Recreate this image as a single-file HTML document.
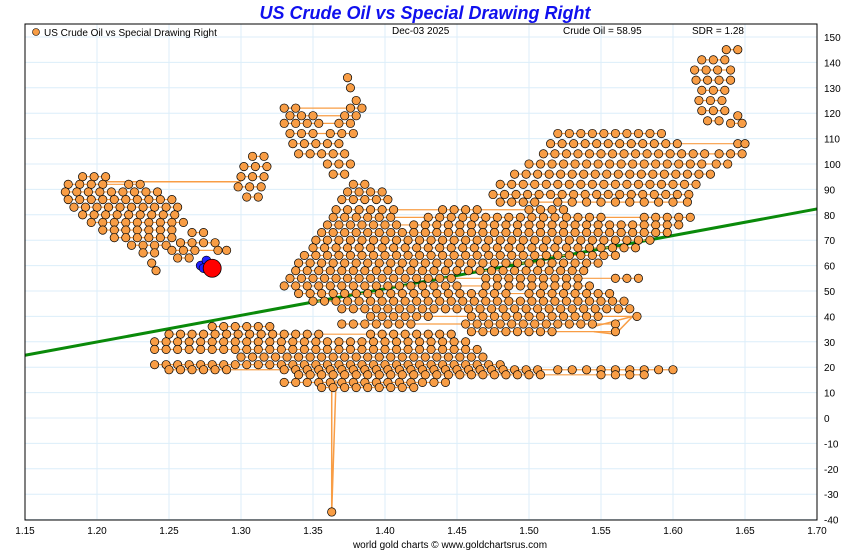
<!DOCTYPE html>
<html><head><meta charset="utf-8"><style>
html,body{margin:0;padding:0;background:#fff;}
svg{display:block;font-family:"Liberation Sans",sans-serif;}
</style></head><body>
<svg id="chart" width="850" height="550">
<text x="425" y="19" text-anchor="middle" font-size="18" font-weight="bold" font-style="italic" fill="#1010ee">US Crude Oil vs Special Drawing Right</text>
<g id="grid"></g>
<g id="trend"></g>
<g id="marks"></g>
<rect x="25" y="24" width="792" height="496" fill="none" stroke="#000" stroke-width="1"/>
<g id="axes"></g>
<circle cx="36" cy="32" r="3.5" fill="#f89d45" stroke="#000" stroke-width="0.6"/>
<text x="44" y="36" font-size="10">US Crude Oil vs Special Drawing Right</text>
<text x="392" y="34" font-size="10">Dec-03  2025</text>
<text x="563" y="34" font-size="10">Crude Oil = 58.95</text>
<text x="692" y="34" font-size="10">SDR = 1.28</text>
<text x="450" y="548" text-anchor="middle" font-size="10">world gold charts © www.goldchartsrus.com</text>
</svg>
<script>
const xTicks=[1.15,1.20,1.25,1.30,1.35,1.40,1.45,1.50,1.55,1.60,1.65,1.70];
const yTicks=[150,140,130,120,110,100,90,80,70,60,50,40,30,20,10,0,-10,-20,-30,-40];
const trendStart=[1.15,24.7];
const trendEnd=[1.70,82.3];
// rows: [oil price, [SDR values observed at that oil level]]
const rowsLeft=[
[95,[1.19,1.198,1.206]],
[92,[1.18,1.188,1.196,1.204,1.222,1.23]],
[89,[1.178,1.186,1.194,1.202,1.21,1.218,1.226,1.234,1.242]],
[86,[1.18,1.188,1.196,1.204,1.212,1.22,1.228,1.236,1.244,1.252]],
[83,[1.184,1.192,1.2,1.208,1.216,1.224,1.232,1.24,1.248,1.256]],
[80,[1.19,1.198,1.206,1.214,1.222,1.23,1.238,1.246,1.254]],
[77,[1.196,1.204,1.212,1.22,1.228,1.236,1.244,1.252,1.26]],
[74,[1.204,1.212,1.22,1.228,1.236,1.244,1.252]],
[71,[1.212,1.22,1.228,1.236,1.244,1.252]],
[68,[1.224,1.232,1.24,1.248]],
[65,[1.232,1.24]],
[61,[1.238]],
[58,[1.241]]];
const rowsRecent=[[73,[1.266,1.274]],[69,[1.258,1.266,1.274,1.282]],[66,[1.252,1.26,1.268,1.284,1.29]],[63,[1.256,1.264]]];
const rowsPre=[[103,[1.308,1.316]],[99,[1.302,1.31,1.318]],[95,[1.3,1.308,1.316]],[91,[1.298,1.306,1.314]],[87,[1.304,1.312]]];
const rowsUpperMid=[
[134,[1.374]],[130,[1.376]],[125,[1.38]],
[122,[1.33,1.338,1.376,1.384]],
[119,[1.334,1.342,1.35,1.372,1.38]],
[116,[1.33,1.338,1.346,1.354,1.368,1.376]],
[112,[1.334,1.342,1.35,1.362,1.37,1.378]],
[108,[1.336,1.344,1.352,1.36,1.368]],
[104,[1.34,1.348,1.356,1.364,1.372]],
[100,[1.36,1.368,1.376]],
[96,[1.364,1.372]]];
const rowsMass=[
[92,[1.378,1.386]],
[89,[1.374,1.382,1.39,1.398]],
[86,[1.37,1.378,1.386,1.394,1.402]],
[82,[1.366,1.374,1.382,1.39,1.398,1.406,1.44,1.448,1.456,1.464,1.5,1.508,1.516,1.524]],
[79,[1.364,1.372,1.38,1.388,1.396,1.404,1.43,1.438,1.446,1.454,1.462,1.47,1.478,1.486,1.494,1.502,1.51,1.518,1.526,1.534,1.542,1.55,1.58,1.588,1.596,1.604,1.612]],
[76,[1.36,1.368,1.376,1.384,1.392,1.4,1.408,1.42,1.428,1.436,1.444,1.452,1.46,1.468,1.476,1.484,1.492,1.5,1.508,1.516,1.524,1.532,1.54,1.548,1.556,1.564,1.572,1.58,1.588,1.596,1.604]],
[73,[1.356,1.364,1.372,1.38,1.388,1.396,1.404,1.412,1.42,1.428,1.436,1.444,1.452,1.46,1.468,1.476,1.484,1.492,1.5,1.508,1.516,1.524,1.532,1.54,1.548,1.556,1.564,1.572,1.58,1.588,1.596]],
[70,[1.352,1.36,1.368,1.376,1.384,1.392,1.4,1.408,1.416,1.424,1.432,1.44,1.448,1.456,1.464,1.472,1.48,1.488,1.496,1.504,1.512,1.52,1.528,1.536,1.544,1.552,1.56,1.568,1.576,1.584]],
[67,[1.35,1.358,1.366,1.374,1.382,1.39,1.398,1.406,1.414,1.422,1.43,1.438,1.446,1.454,1.462,1.47,1.478,1.486,1.494,1.502,1.51,1.518,1.526,1.534,1.542,1.55,1.558,1.566,1.574]],
[64,[1.344,1.352,1.36,1.368,1.376,1.384,1.392,1.4,1.408,1.416,1.424,1.432,1.44,1.448,1.456,1.464,1.472,1.48,1.488,1.496,1.504,1.512,1.52,1.528,1.536,1.544,1.552,1.56]],
[61,[1.34,1.348,1.356,1.364,1.372,1.38,1.388,1.396,1.404,1.412,1.42,1.428,1.436,1.444,1.452,1.46,1.468,1.476,1.484,1.492,1.5,1.508,1.516,1.524,1.532,1.54,1.548]],
[58,[1.338,1.346,1.354,1.362,1.37,1.378,1.386,1.394,1.402,1.41,1.418,1.426,1.434,1.442,1.45,1.458,1.466,1.474,1.482,1.49,1.498,1.506,1.514,1.522,1.53,1.538]],
[55,[1.334,1.342,1.35,1.358,1.366,1.374,1.382,1.39,1.398,1.406,1.414,1.422,1.43,1.438,1.446,1.47,1.478,1.486,1.494,1.502,1.51,1.518,1.526,1.534,1.56,1.568,1.576]],
[52,[1.33,1.338,1.346,1.354,1.362,1.37,1.378,1.386,1.394,1.402,1.41,1.418,1.426,1.434,1.442,1.45,1.47,1.478,1.486,1.494,1.502,1.51,1.518,1.526,1.534,1.542]],
[49,[1.34,1.348,1.356,1.364,1.372,1.38,1.388,1.396,1.404,1.412,1.42,1.428,1.436,1.444,1.452,1.46,1.468,1.476,1.484,1.5,1.508,1.516,1.524,1.532,1.54,1.548,1.556]],
[46,[1.35,1.358,1.366,1.374,1.382,1.39,1.398,1.406,1.414,1.422,1.43,1.438,1.446,1.454,1.462,1.47,1.478,1.486,1.494,1.502,1.51,1.518,1.526,1.534,1.542,1.55,1.558,1.566]],
[43,[1.37,1.378,1.386,1.394,1.402,1.41,1.418,1.426,1.434,1.442,1.45,1.458,1.466,1.474,1.482,1.49,1.498,1.506,1.514,1.522,1.53,1.538,1.546,1.554,1.562,1.57]],
[40,[1.39,1.398,1.406,1.414,1.422,1.43,1.46,1.468,1.476,1.484,1.492,1.5,1.508,1.516,1.524,1.532,1.54,1.548,1.575]],
[37,[1.37,1.378,1.386,1.394,1.402,1.41,1.418,1.456,1.464,1.472,1.48,1.488,1.496,1.504,1.512,1.52,1.528,1.536,1.544,1.56]],
[34,[1.46,1.468,1.476,1.484,1.492,1.5,1.508,1.516,1.56]]];
const rowsBottom=[
[36,[1.28,1.288,1.296,1.304,1.312,1.32]],
[33,[1.25,1.258,1.266,1.274,1.282,1.29,1.298,1.306,1.314,1.322,1.33,1.338,1.346,1.354,1.39,1.398,1.406,1.414,1.422,1.43,1.438,1.446]],
[30,[1.24,1.248,1.256,1.264,1.272,1.28,1.288,1.296,1.304,1.312,1.32,1.328,1.336,1.344,1.352,1.36,1.368,1.376,1.384,1.392,1.4,1.408,1.416,1.424,1.432,1.44,1.448,1.456]],
[27,[1.24,1.248,1.256,1.264,1.272,1.28,1.288,1.296,1.304,1.312,1.32,1.328,1.336,1.344,1.352,1.36,1.368,1.376,1.384,1.392,1.4,1.408,1.416,1.424,1.432,1.44,1.448,1.456,1.464]],
[24,[1.3,1.308,1.316,1.324,1.332,1.34,1.348,1.356,1.364,1.372,1.38,1.388,1.396,1.404,1.412,1.42,1.428,1.436,1.444,1.452,1.46,1.468]],
[21,[1.24,1.248,1.256,1.264,1.272,1.28,1.288,1.296,1.304,1.312,1.32,1.328,1.336,1.344,1.352,1.36,1.368,1.376,1.384,1.392,1.4,1.408,1.416,1.424,1.432,1.44,1.448,1.456,1.464,1.472,1.48]],
[19,[1.25,1.258,1.266,1.274,1.282,1.29,1.33,1.338,1.346,1.354,1.362,1.37,1.378,1.386,1.394,1.402,1.41,1.418,1.426,1.434,1.442,1.45,1.458,1.466,1.474,1.482,1.49,1.498,1.506,1.52,1.53,1.54,1.55,1.56,1.57,1.58,1.59,1.6]],
[17,[1.34,1.348,1.356,1.364,1.372,1.38,1.388,1.396,1.404,1.412,1.42,1.428,1.436,1.444,1.452,1.46,1.468,1.476,1.484,1.492,1.5,1.508,1.55,1.56,1.57,1.58]],
[14,[1.33,1.338,1.346,1.354,1.362,1.37,1.378,1.386,1.394,1.402,1.41,1.418,1.426,1.434,1.442]],
[12,[1.356,1.364,1.372,1.38,1.388,1.396,1.404,1.412,1.42]],
[-37,[1.363]]];
const rowsUpperRight=[
[119,[1.645]],[116,[1.64,1.648]],
[112,[1.52,1.528,1.536,1.544,1.552,1.56,1.568,1.576,1.584,1.592]],
[108,[1.515,1.523,1.531,1.539,1.547,1.555,1.563,1.571,1.579,1.587,1.595,1.603,1.645,1.65]],
[104,[1.51,1.518,1.526,1.534,1.542,1.55,1.558,1.566,1.574,1.582,1.59,1.598,1.606,1.614,1.622,1.632,1.64,1.648]],
[100,[1.5,1.508,1.516,1.524,1.532,1.54,1.548,1.556,1.564,1.572,1.58,1.588,1.596,1.604,1.612,1.62,1.63,1.638]],
[96,[1.49,1.498,1.506,1.514,1.522,1.53,1.538,1.546,1.554,1.562,1.57,1.578,1.586,1.594,1.602,1.61,1.618,1.626]],
[92,[1.48,1.488,1.496,1.504,1.512,1.52,1.528,1.536,1.544,1.552,1.56,1.568,1.576,1.584,1.592,1.6,1.608,1.616]],
[88,[1.475,1.483,1.491,1.499,1.507,1.515,1.523,1.531,1.539,1.547,1.555,1.563,1.571,1.579,1.587,1.595,1.603,1.611]],
[85,[1.48,1.488,1.496,1.504,1.52,1.53,1.54,1.55,1.56,1.57,1.58,1.59,1.6,1.61]]];
const rowsTop=[
[145,[1.637,1.645]],[141,[1.62,1.628,1.636]],[137,[1.615,1.623,1.631,1.64]],[133,[1.616,1.624,1.632,1.64]],
[129,[1.62,1.628,1.636]],[125,[1.618,1.626,1.634]],[121,[1.62,1.628,1.636]],[117,[1.624,1.632]]];
const connectorPre=[[1.205,93],[1.30,93]];
const connectorSpike=[[1.363,20],[1.363,-37],[1.366,15]];
const connectorLoop=[[1.545,36],[1.572,40],[1.56,33],[1.545,34]];
const recentBlue=[[1.272,60],[1.276,62],[1.274,59]];
const latestPoint=[1.28,58.95];

const NS="http://www.w3.org/2000/svg";
const X0=25,X1=817,Y0=24,Y1=520;
function sx(v){return X0+(v-1.15)/(1.70-1.15)*(X1-X0);}
function sy(v){return 418-v*2.54;}
function mk(tag,attrs,parent){const e=document.createElementNS(NS,tag);for(const k in attrs)e.setAttribute(k,attrs[k]);parent.appendChild(e);return e;}
const grid=document.getElementById('grid'),axes=document.getElementById('axes'),marks=document.getElementById('marks'),trend=document.getElementById('trend');
xTicks.forEach(t=>{
  const g=mk('line',{x1:sx(t),x2:sx(t),y1:Y0,y2:Y1,stroke:'#dceefa','stroke-width':1},grid);
  
  
  const l=mk('text',{x:sx(t),y:534,'text-anchor':'middle','font-size':10},axes);
  l.textContent=t.toFixed(2);
  
  
});
yTicks.forEach(t=>{
  const g=mk('line',{x1:X0,x2:X1,y1:sy(t),y2:sy(t),stroke:'#dceefa','stroke-width':1},grid);
  
  
  const l=mk('text',{x:824,y:sy(t)+4,'font-size':10},axes);
  l.textContent=t;
  
  
});
const tl=mk('line',{x1:sx(trendStart[0]),y1:sy(trendStart[1]),x2:sx(trendEnd[0]),y2:sy(trendEnd[1]),stroke:'#0a8a0a','stroke-width':3},trend);


[connectorPre,connectorSpike,connectorLoop].forEach(s=>{
  const p=mk('polyline',{points:s.map(d=>sx(d[0])+','+sy(d[1])).join(' '),fill:'none',stroke:'#f89d45','stroke-width':1.5},marks);
  
  
});
const allRows=[rowsLeft,rowsRecent,rowsPre,rowsUpperMid,rowsBottom,rowsMass,rowsUpperRight,rowsTop];
allRows.forEach(rows=>rows.forEach(r=>{
  const p=mk('polyline',{points:r[1].map(v=>sx(v)+','+sy(r[0])).join(' '),fill:'none',stroke:'#f89d45','stroke-width':1.2},marks);
  
  
}));
allRows.forEach(rows=>rows.forEach(r=>r[1].forEach(v=>{
  const c=mk('circle',{cx:sx(v),cy:sy(r[0]),r:4.2,fill:'#f89d45',stroke:'#000','stroke-width':0.7},marks);
  
  
})));
recentBlue.forEach(d=>{
  const c=mk('circle',{cx:sx(d[0]),cy:sy(d[1]),r:4.5,fill:'#2020ff',stroke:'#000','stroke-width':0.6},marks);
  
  
});
const lp=mk('circle',{cx:sx(latestPoint[0]),cy:sy(latestPoint[1]),r:9,fill:'#ff0000',stroke:'#000','stroke-width':0.8},marks);


</script>
</body></html>
